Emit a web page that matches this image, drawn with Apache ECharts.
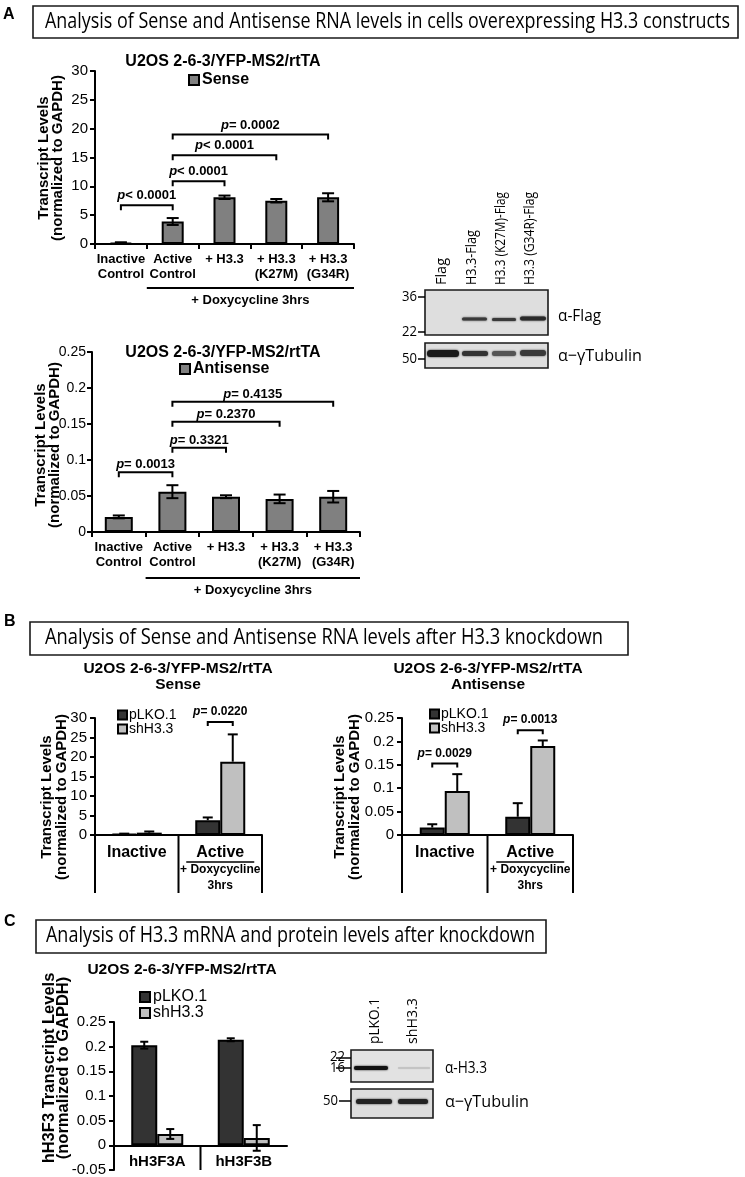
<!DOCTYPE html>
<html><head><meta charset="utf-8">
<script src="https://cdn.jsdelivr.net/npm/echarts@6/dist/echarts.min.js"></script>
<style>html,body{margin:0;padding:0;background:#fff}#c{width:745px;height:1177px}</style>
</head><body><div id="c"></div>
<script>
// ---------- data ----------
const catsA = ['Inactive\nControl', 'Active\nControl', '+ H3.3', '+ H3.3\n(K27M)', '+ H3.3\n(G34R)'];
const senseA = [0.2, 3.9, 8.1, 7.5, 8.1];
const senseAErr = [0.1, 0.6, 0.3, 0.3, 0.7];
const antiA = [0.021, 0.056, 0.049, 0.046, 0.049];
const antiAErr = [0.002, 0.009, 0.002, 0.006, 0.008];
const senseAPairs = [[0, 1, 6.7, '< 0.0001'], [1, 2, 10.9, '< 0.0001'], [1, 3, 15.4, '< 0.0001'], [1, 4, 19.0, '= 0.0002']];
const antiAPairs = [[0, 1, 0.083, '= 0.0013'], [1, 2, 0.117, '= 0.3321'], [1, 3, 0.153, '= 0.2370'], [1, 4, 0.181, '= 0.4135']];
const ticksA1 = {min: 0, max: 30, interval: 5};
const ticksA2 = {min: 0, max: 0.25, interval: 0.05};

const catsB = ['Inactive', 'Active'];
const senseBpLKO = [0.3, 3.8];
const senseBpLKOErr = [0.05, 0.7];
const senseBsh = [0.6, 18.8];
const senseBshErr = [0.3, 7.0];
const antiBpLKO = [0.016, 0.039];
const antiBpLKOErr = [0.007, 0.029];
const antiBsh = [0.094, 0.190];
const antiBshErr = [0.036, 0.012];
const senseBPairs = [[1, 1, 29.0, '= 0.0220']];
const antiBPairs = [[0, 0, 0.153, '= 0.0029'], [1, 1, 0.224, '= 0.0013']];
const ticksB1 = {min: 0, max: 30, interval: 5};
const ticksB2 = {min: 0, max: 0.25, interval: 0.05};

const catsC = ['hH3F3A', 'hH3F3B'];
const cpLKO = [0.203, 0.214];
const cpLKOErr = [0.007, 0.003];
const csh = [0.023, 0.015];
const cshErr = [0.010, 0.026];
const ticksC = {min: -0.05, max: 0.25, interval: 0.05};

// ---------- styles ----------
const F = "'Liberation Sans', Arial, sans-serif";
const N = "'Open Sans', 'Noto Sans', sans-serif";
const GRAY = '#808080', DARK = '#333333', LIGHT = '#c0c0c0';
const mctx = document.createElement('canvas').getContext('2d');
function fitScale(text, font, target) { mctx.font = font; return target / mctx.measureText(text).width; }

function xCat(gi, data, opts) {
  return Object.assign({
    type: 'category', gridIndex: gi, data: data,
    axisLine: {lineStyle: {color: '#000', width: 2}},
    axisTick: {show: true, length: 5, lineStyle: {color: '#000', width: 2}},
    axisLabel: {color: '#000', fontFamily: F, fontWeight: 'bold', fontSize: 13, lineHeight: 15, margin: 8, interval: 0}
  }, opts || {});
}
function yVal(gi, t, fs, margin) {
  return {
    type: 'value', gridIndex: gi, min: t.min, max: t.max, interval: t.interval,
    axisLine: {show: true, lineStyle: {color: '#000', width: 2}},
    axisTick: {show: true, length: 5, lineStyle: {color: '#000', width: 2}},
    splitLine: {show: false},
    axisLabel: {color: '#000', fontFamily: F, fontSize: fs || 15, margin: margin || 8}
  };
}
function bar(name, gi, data, color, w, gap) {
  return {type: 'bar', name: name, xAxisIndex: gi, yAxisIndex: gi, data: data, barWidth: w, barGap: gap || '0%',
    itemStyle: {color: color, borderColor: '#000', borderWidth: 2}, z: 2, silent: true};
}
function errorSeries(gi, means, errs, offset, cap, upOnly) {
  return {
    type: 'custom', xAxisIndex: gi, yAxisIndex: gi, z: 5, silent: true, clip: false,
    data: means.map((m, i) => [i, m, errs[i]]),
    encode: {x: 0, y: 1},
    renderItem: function (params, api) {
      const i = api.value(0), m = api.value(1), e = api.value(2);
      const pt = api.coord([i, m + e]);
      const pb = api.coord([i, upOnly ? m : m - e]);
      const x = pt[0] + offset;
      const s = {stroke: '#000', lineWidth: 2};
      const ch = [
        {type: 'line', shape: {x1: x, y1: pt[1], x2: x, y2: pb[1]}, style: s},
        {type: 'line', shape: {x1: x - cap, y1: pt[1], x2: x + cap, y2: pt[1]}, style: s}
      ];
      if (!upOnly) ch.push({type: 'line', shape: {x1: x - cap, y1: pb[1], x2: x + cap, y2: pb[1]}, style: s});
      return {type: 'group', children: ch};
    }
  };
}
function bracketSeries(gi, pairs, off1, off2, tick, gap, fs) {
  return {
    type: 'custom', xAxisIndex: gi, yAxisIndex: gi, z: 6, silent: true, clip: false,
    data: pairs.map(p => [p[0], p[2], p[1]]),
    encode: {x: 0, y: 1},
    renderItem: function (params, api) {
      const p1 = api.coord([api.value(0), api.value(1)]);
      const p2 = api.coord([api.value(2), api.value(1)]);
      const x1 = p1[0] + off1, x2 = p2[0] + off2, y = p1[1];
      return {type: 'group', children: [
        {type: 'polyline', shape: {points: [[x1, y + tick], [x1, y], [x2, y], [x2, y + tick]]},
          style: {stroke: '#000', lineWidth: 2, fill: null}},
        {type: 'text', style: {
          text: '{i|p}{b|' + pairs[params.dataIndex][3] + '}', x: (x1 + x2) / 2, y: y - gap,
          align: 'center', verticalAlign: 'bottom',
          rich: {i: {fontFamily: F, fontStyle: 'italic', fontWeight: 'bold', fontSize: fs, fill: '#000'},
                 b: {fontFamily: F, fontWeight: 'bold', fontSize: fs, fill: '#000'}}
        }}
      ]};
    }
  };
}
function doxySeries(gi, nCats, lineDy, textDy) {
  return {
    type: 'custom', xAxisIndex: gi, yAxisIndex: gi, z: 6, silent: true, clip: false,
    data: [[1, 0]], encode: {x: 0, y: 1},
    renderItem: function (params, api) {
      const band = api.size([1, 0])[0];
      const p = api.coord([1, 0]);
      const q = api.coord([nCats - 1, 0]);
      const x1 = p[0] - band / 2, x2 = q[0] + band / 2, y = p[1];
      return {type: 'group', children: [
        {type: 'line', shape: {x1: x1, y1: y + lineDy, x2: x2, y2: y + lineDy}, style: {stroke: '#000', lineWidth: 2}},
        {type: 'text', style: {text: '+ Doxycycline 3hrs', x: (x1 + x2) / 2, y: y + textDy, align: 'center', verticalAlign: 'middle',
          font: 'bold 13px ' + F, fill: '#000'}}
      ]};
    }
  };
}
// frame below the zero line: vertical lines at category boundaries down to yBottom (data value) or by depth px
function frameSeries(gi, bounds, depth, yBottom, underline) {
  return {
    type: 'custom', xAxisIndex: gi, yAxisIndex: gi, z: 6, silent: true, clip: false,
    data: [[0, 0]], encode: {x: 0, y: 1},
    renderItem: function (params, api) {
      const band = api.size([1, 0])[0];
      const p = api.coord([0, 0]);
      const left = p[0] - band / 2, y = p[1];
      const yb = yBottom !== null ? api.coord([0, yBottom])[1] : y + depth;
      const ch = [];
      bounds.forEach(k => {
        const x = left + k * band;
        ch.push({type: 'line', shape: {x1: x, y1: y, x2: x, y2: yb}, style: {stroke: '#000', lineWidth: 2}});
      });
      if (underline) {
        const cx = left + 1.5 * band;
        ch.push({type: 'line', shape: {x1: cx - 34, y1: y + 27, x2: cx + 34, y2: y + 27}, style: {stroke: '#000', lineWidth: 1.5}});
      }
      return {type: 'group', children: ch};
    }
  };
}
// category labels drawn just under the zero line (panel C)
function zeroLabelSeries(gi, cats, dy, font) {
  return {
    type: 'custom', xAxisIndex: gi, yAxisIndex: gi, z: 6, silent: true, clip: false,
    data: cats.map((c, i) => [i, 0]), encode: {x: 0, y: 1},
    renderItem: function (params, api) {
      const p = api.coord([api.value(0), 0]);
      return {type: 'text', style: {text: cats[params.dataIndex], x: p[0], y: p[1] + dy,
        align: 'center', verticalAlign: 'middle', font: font, fill: '#000'}};
    }
  };
}
const activeLabel = {
  interval: 0, margin: 8, color: '#000',
  formatter: function (v) { return v === 'Active' ? '{b|Active}\n{s|+ Doxycycline}\n{s|3hrs}' : '{b|' + v + '}'; },
  rich: {b: {fontFamily: F, fontWeight: 'bold', fontSize: 16, lineHeight: 19, color: '#000'},
         s: {fontFamily: F, fontWeight: 'bold', fontSize: 12, lineHeight: 16, color: '#000'}}
};

// ---------- graphic (headers, titles, blots) ----------
const G = [];
function txt(x, y, t, font, align, va, rot, extra, target) {
  const el = {type: 'text', x: x, y: y, rotation: rot || 0, silent: true,
    style: Object.assign({text: t, font: font, fill: '#000', align: align || 'left', verticalAlign: va || 'middle'}, extra || {})};
  if (target) el.scaleX = fitScale(t, font, target);
  G.push(el);
}
function box(x, y, w, h, fill, lw) {
  G.push({type: 'rect', silent: true, shape: {x: x, y: y, width: w, height: h}, style: {fill: fill || '#fff', stroke: '#1a1a1a', lineWidth: lw || 1.6}});
}
function band(x, y, w, h, color, blur) {
  G.push({type: 'rect', silent: true, shape: {x: x, y: y, width: w, height: h, r: h / 2},
    style: {fill: color, shadowBlur: blur || 2, shadowColor: color}});
}
function dash(x1, x2, y) {
  G.push({type: 'line', silent: true, shape: {x1: x1, y1: y, x2: x2, y2: y}, style: {stroke: '#000', lineWidth: 1.5}});
}
// panel letters
txt(3, 15, 'A', 'bold 16px ' + F);
txt(4, 622, 'B', 'bold 16px ' + F);
txt(4, 922, 'C', 'bold 16px ' + F);
// headers
const HF = '21px ' + N;
box(33, 6, 705, 32);
txt(45, 22, 'Analysis of Sense and Antisense RNA levels in cells overexpressing H3.3 constructs', HF, 'left', 'middle', 0, null, 685);
box(30, 622, 598, 33);
txt(45, 638, 'Analysis of Sense and Antisense RNA levels after H3.3 knockdown', HF, 'left', 'middle', 0, null, 558);
box(36, 920, 510, 33);
txt(46, 936, 'Analysis of H3.3 mRNA and protein levels after knockdown', HF, 'left', 'middle', 0, null, 489);
// chart titles
const title = 'U2OS 2-6-3/YFP-MS2/rtTA';
txt(223, 62, title, 'bold 16px ' + F, 'center');
txt(223, 353, title, 'bold 16px ' + F, 'center');
txt(178, 677, title + '\nSense', 'bold 15.5px ' + F, 'center', 'middle', 0, {lineHeight: 16});
txt(488, 677, title + '\nAntisense', 'bold 15.5px ' + F, 'center', 'middle', 0, {lineHeight: 16});
txt(182, 970, title, 'bold 15.5px ' + F, 'center');
// y axis names
const yName = 'Transcript Levels\n(normalized to GAPDH)';
txt(51, 158, yName, 'bold 15px ' + F, 'center', 'middle', Math.PI / 2, {lineHeight: 14});
txt(48, 445, yName, 'bold 15px ' + F, 'center', 'middle', Math.PI / 2, {lineHeight: 14});
txt(54, 797, yName, 'bold 15px ' + F, 'center', 'middle', Math.PI / 2, {lineHeight: 15});
txt(347, 797, yName, 'bold 15px ' + F, 'center', 'middle', Math.PI / 2, {lineHeight: 15});
txt(56, 1068, 'hH3F3 Transcript Levels\n(normalized to GAPDH)', 'bold 16.5px ' + F, 'center', 'middle', Math.PI / 2, {lineHeight: 14});

// blot A
const BF = '15px ' + N;
const laneA = ['Flag', 'H3.3-Flag', 'H3.3 (K27M)-Flag', 'H3.3 (G34R)-Flag'];
const laneAx = [442, 472, 501, 530];
const laneAlen = [27, 55, 93, 93];
laneA.forEach((l, i) => txt(laneAx[i], 285, l, BF, 'left', 'middle', Math.PI / 2, null, laneAlen[i]));
box(425, 290, 123, 45, '#dedede', 1.6);
box(425, 343, 123, 25, '#dedede', 1.6);
band(462, 317.5, 25, 3, '#3a3a3a'); band(492, 318, 24, 3, '#3a3a3a'); band(520, 316.5, 26, 4, '#2a2a2a');
band(427, 350, 32, 7, '#1a1a1a'); band(462, 351, 26, 5, '#333'); band(492, 351, 24, 5, '#555'); band(520, 350, 26, 6, '#3a3a3a');
txt(417, 297, '36', BF, 'right', 'middle', 0, null, 15); dash(418, 425, 297);
txt(417, 332, '22', BF, 'right', 'middle', 0, null, 15); dash(418, 425, 332);
txt(417, 359, '50', BF, 'right', 'middle', 0, null, 15); dash(418, 425, 359);
txt(558, 316, 'α-Flag', '17px ' + N, 'left', 'middle', 0, null, 43);
txt(558, 356, 'α−γTubulin', '17px ' + N, 'left', 'middle', 0, null, 84);

// blot C
txt(375, 1044, 'pLKO.1', BF, 'left', 'middle', Math.PI / 2, null, 46);
txt(413, 1044, 'shH3.3', BF, 'left', 'middle', Math.PI / 2, null, 46);
box(351, 1050, 82, 32, '#e2e2e2', 1.6);
box(351, 1089, 82, 29, '#dcdcdc', 1.6);
band(354, 1066, 34, 4, '#111'); band(398, 1067, 32, 2, '#c4c4c4', 1);
band(356, 1099, 36, 5, '#222'); band(398, 1099, 30, 5, '#222');
txt(345, 1057, '22', BF, 'right', 'middle', 0, null, 15); dash(336, 351, 1058);
txt(345, 1068, '16', BF, 'right', 'middle', 0, null, 15); dash(336, 351, 1068);
txt(338, 1101, '50', BF, 'right', 'middle', 0, null, 15); dash(339, 351, 1101);
txt(445, 1068, 'α-H3.3', '17px ' + N, 'left', 'middle', 0, null, 42);
txt(445, 1102, 'α−γTubulin', '17px ' + N, 'left', 'middle', 0, null, 84);

// ---------- chart ----------
const chart = echarts.init(document.getElementById('c'), null, {renderer: 'canvas'});
const legendText = {color: '#000', fontFamily: F};
function grid(l, t, w, h) { return {left: l, top: t, width: w, height: h, containLabel: false, outerBoundsMode: 'none'}; }
chart.setOption({
  animation: false,
  backgroundColor: '#fff',
  grid: [
    grid(95, 71, 259, 173),
    grid(92, 352, 268, 180),
    grid(95, 718, 167, 117),
    grid(402, 718, 171, 117),
    grid(114, 1022, 173, 148)
  ],
  legend: [
    {data: ['Sense'], left: 183, top: 67, icon: 'rect', itemWidth: 10, itemHeight: 10,
      textStyle: Object.assign({fontWeight: 'bold', fontSize: 16, padding: [0, 0, 0, -2]}, legendText)},
    {data: ['Antisense'], left: 174, top: 356, icon: 'rect', itemWidth: 10, itemHeight: 10,
      textStyle: Object.assign({fontWeight: 'bold', fontSize: 16, padding: [0, 0, 0, -2]}, legendText)},
    {data: ['pLKO.1', 'shH3.3'], left: 112, top: 703, orient: 'vertical', itemGap: 0, icon: 'rect', itemWidth: 9, itemHeight: 9,
      textStyle: Object.assign({fontSize: 14, padding: [0, 0, 0, -3]}, legendText)},
    {data: ['pLKO.1', 'shH3.3'], left: 424, top: 702, orient: 'vertical', itemGap: 0, icon: 'rect', itemWidth: 9, itemHeight: 9,
      textStyle: Object.assign({fontSize: 14, padding: [0, 0, 0, -3]}, legendText)},
    {data: ['pLKO.1', 'shH3.3'], left: 134, top: 984, orient: 'vertical', itemGap: 0, icon: 'rect', itemWidth: 10, itemHeight: 10,
      textStyle: Object.assign({fontSize: 16, padding: [0, 0, 0, -2]}, legendText)}
  ],
  xAxis: [
    xCat(0, catsA),
    xCat(1, catsA),
    xCat(2, catsB, {axisTick: {show: false}, axisLabel: activeLabel}),
    xCat(3, catsB, {axisTick: {show: false}, axisLabel: activeLabel}),
    xCat(4, catsC, {axisTick: {show: false}, axisLabel: {show: false}})
  ],
  yAxis: [yVal(0, ticksA1, 15, 7), yVal(1, ticksA2, 14, 6), yVal(2, ticksB1, 15, 8), yVal(3, ticksB2, 15, 8), yVal(4, ticksC, 15, 8)],
  series: [
    bar('Sense', 0, senseA, GRAY, 22),
    errorSeries(0, senseA, senseAErr, 0, 6, false),
    bracketSeries(0, senseAPairs, 0, 0, 5, 3, 13),
    doxySeries(0, catsA.length, 44, 56),

    bar('Antisense', 1, antiA, GRAY, 28),
    errorSeries(1, antiA, antiAErr, 0, 6, false),
    bracketSeries(1, antiAPairs, 0, 0, 5, 1, 13),
    doxySeries(1, catsA.length, 46, 58),

    bar('pLKO.1', 2, senseBpLKO, DARK, 25),
    bar('shH3.3', 2, senseBsh, LIGHT, 25),
    errorSeries(2, senseBpLKO, senseBpLKOErr, -12.5, 5, true),
    errorSeries(2, senseBsh, senseBshErr, 12.5, 5, true),
    bracketSeries(2, senseBPairs, -12.5, 12.5, 4, 4, 12),
    frameSeries(2, [0, 1, 2], 58, null, true),

    bar('pLKO.1', 3, antiBpLKO, DARK, 25),
    bar('shH3.3', 3, antiBsh, LIGHT, 25),
    errorSeries(3, antiBpLKO, antiBpLKOErr, -12.5, 5, true),
    errorSeries(3, antiBsh, antiBshErr, 12.5, 5, true),
    bracketSeries(3, antiBPairs, -12.5, 12.5, 4, 4, 12),
    frameSeries(3, [0, 1, 2], 58, null, true),

    bar('pLKO.1', 4, cpLKO, DARK, 26),
    bar('shH3.3', 4, csh, LIGHT, 26),
    errorSeries(4, cpLKO, cpLKOErr, -13, 4, false),
    errorSeries(4, csh, cshErr, 13, 4, false),
    frameSeries(4, [1], 0, ticksC.min, false),
    zeroLabelSeries(4, catsC, 17, 'bold 15px ' + F)
  ],
  graphic: {elements: G}
});
</script></body></html>
